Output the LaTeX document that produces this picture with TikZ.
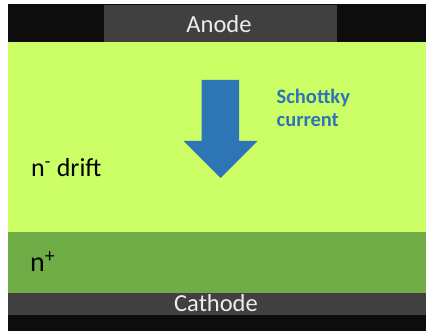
\documentclass[tikz,border=0pt]{standalone}
\usepackage{fontspec}
\setmainfont{Carlito}
\definecolor{contact}{HTML}{404040}
\definecolor{drift}{HTML}{CCFF66}
\definecolor{substrate}{HTML}{70AD47}
\definecolor{flow}{HTML}{2E75B6}
\tikzset{layer/.style={fill=#1, draw=none},
  elec/.style={text=white!93!black, font=\fontsize{24.5}{26}\selectfont, anchor=base, inner sep=0pt},
  region/.style={text=black, font=\fontsize{26}{28}\selectfont, anchor=base west, inner sep=0pt}}
\begin{document}
\begin{tikzpicture}[x=1pt, y=-1pt]
\useasboundingbox (0,0) rectangle (426,331);
\fill[white] (0,0) rectangle (426,331);
% stack of layers, top to bottom
\fill[black!95] (8,4) rectangle (426,42);
\fill[layer=contact] (104,5) rectangle (337,42);
\fill[layer=drift] (8,42) rectangle (426,232);
\fill[layer=substrate] (8,232) rectangle (426,293);
\fill[layer=contact] (8,293) rectangle (426,315);
\fill[black!95] (8,315) rectangle (426,331);
\node[elec] (anode) at (219,32.5) {Anode};
\node[elec] (cathode) at (216,312) {Cathode};
\node[region] (ndrift) at (31,177) {n\textsuperscript{-} drift};
\node[region, font=\fontsize{28}{30}\selectfont] (nplus) at (30,271.5) {n\textsuperscript{+}};
% current arrow
\fill[flow] (201.5,80) -- (239,80) -- (239,141) -- (257.5,141) -- (220.5,178)
  -- (183.5,141) -- (201.5,141) -- cycle;
\node[text=flow, font=\fontsize{20.5}{23}\selectfont\bfseries, align=left, anchor=base west, inner sep=0pt]
  (schottky) at (276.5,127) {Schottky\\current};
\end{tikzpicture}
\end{document}
